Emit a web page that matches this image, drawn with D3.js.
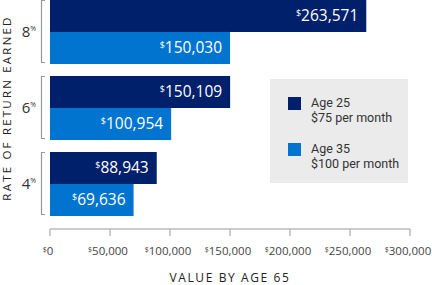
<!DOCTYPE html>
<html>
<head>
<meta charset="utf-8">
<script src="https://cdn.jsdelivr.net/npm/d3@7"></script>
<style>
  body { margin: 0; background: #fff; }
  svg text { font-family: "Open Sans", sans-serif; }
</style>
</head>
<body>
<svg id="chart" width="432" height="285"></svg>
<script>
const rates = ['8', '6', '4']
const age25Values = [263571, 150109, 88943]
const age35Values = [150030, 100954, 69636]
const tickValues = [0, 50000, 100000, 150000, 200000, 250000, 300000]
const seriesNames = ['Age 25', 'Age 35']
const seriesNotes = ['$75 per month', '$100 per month']
const seriesColors = ['#00206b', '#0074cf']

const svg = d3.select('#chart')

const x = d3.scaleLinear().domain([0, 300000]).range([50, 410])
const y = d3.scaleBand().domain(rates).range([0, 216]).paddingInner(0.158).paddingOuter(0)
const barH = y.bandwidth() / 2

const fmt = d3.format(',')

// bars, one group per rate
const groups = svg.selectAll('.grp')
  .data(rates)
  .enter().append('g')
  .attr('class', 'grp')
  .attr('transform', d => `translate(0,${y(d)})`)

const series = [age25Values, age35Values]
series.forEach((vals, si) => {
  groups.append('rect')
    .attr('x', x(0))
    .attr('y', si * barH)
    .attr('width', (d, i) => x(vals[i]) - x(0))
    .attr('height', barH)
    .attr('fill', seriesColors[si])

  const lbl = groups.append('text')
    .attr('x', (d, i) => x(vals[i]) - 8)
    .attr('y', si * barH + barH / 2 + 5.5)
    .attr('text-anchor', 'end')
    .attr('fill', '#fff')
    .style('font-size', '15.5px')
  lbl.append('tspan').text('$').style('font-size', '9px').attr('dy', -5)
  lbl.append('tspan').text((d, i) => fmt(vals[i])).attr('dy', 5)
})

// brackets
groups.append('path')
  .attr('d', `M45,0.5H41.5V${y.bandwidth() - 1.5}H45`)
  .attr('fill', 'none')
  .attr('stroke', '#999')
  .attr('stroke-width', 1.2)

// rate labels
const rl = groups.append('text')
  .attr('x', 36)
  .attr('y', y.bandwidth() / 2 + 5.5)
  .attr('text-anchor', 'end')
  .attr('fill', '#333')
  .style('font-size', '15px')
rl.append('tspan').text(d => d)
rl.append('tspan').text('%').style('font-size', '7px').attr('dy', -6)

// y title
svg.append('text')
  .attr('transform', `translate(11,${y.range()[1] / 2}) rotate(-90)`)
  .attr('text-anchor', 'middle')
  .attr('fill', '#222')
  .style('font-size', '11.5px')
  .style('letter-spacing', '2.2px')
  .text('RATE OF RETURN EARNED')

// x axis
const axisY = 229
svg.append('line')
  .attr('x1', x(0)).attr('x2', x(300000))
  .attr('y1', axisY).attr('y2', axisY)
  .attr('stroke', '#bbb').attr('stroke-width', 1.5)

svg.selectAll('.tick')
  .data(tickValues)
  .enter().append('line')
  .attr('class', 'tick')
  .attr('x1', d => x(d)).attr('x2', d => x(d))
  .attr('y1', axisY).attr('y2', axisY + 7)
  .attr('stroke', '#bbb').attr('stroke-width', 1.5)

const tl = svg.selectAll('.tlab')
  .data(tickValues)
  .enter().append('text')
  .attr('class', 'tlab')
  .attr('x', d => x(d) - 2)
  .attr('y', 255)
  .attr('text-anchor', 'middle')
  .attr('fill', '#444')
  .style('font-size', '11.5px')
tl.append('tspan').text('$').style('font-size', '7px').attr('dy', -3)
tl.append('tspan').text(d => fmt(d)).attr('dy', 3)

svg.append('text')
  .attr('x', (x(0) + x(300000)) / 2)
  .attr('y', 282)
  .attr('text-anchor', 'middle')
  .attr('fill', '#222')
  .style('font-size', '12px')
  .style('letter-spacing', '1.6px')
  .text('VALUE BY AGE 65')

// legend
const legend = svg.append('g').attr('transform', 'translate(270,79)')
legend.append('rect')
  .attr('width', 138).attr('height', 104)
  .attr('fill', '#ebebeb')

const li = legend.selectAll('.li')
  .data(seriesNames)
  .enter().append('g')
  .attr('class', 'li')
  .attr('transform', (d, i) => `translate(18,${18 + i * 46})`)
li.append('rect')
  .attr('width', 13).attr('height', 13)
  .attr('fill', (d, i) => seriesColors[i])
li.append('text')
  .attr('x', 23).attr('y', 10)
  .attr('fill', '#333')
  .style('font-family', 'Roboto, sans-serif')
  .style('font-size', '12.5px')
  .text(d => d)
li.append('text')
  .attr('x', 23).attr('y', 25)
  .attr('fill', '#333')
  .style('font-family', 'Roboto, sans-serif')
  .style('font-size', '12.5px')
  .text((d, i) => seriesNotes[i])
</script>
</body>
</html>
